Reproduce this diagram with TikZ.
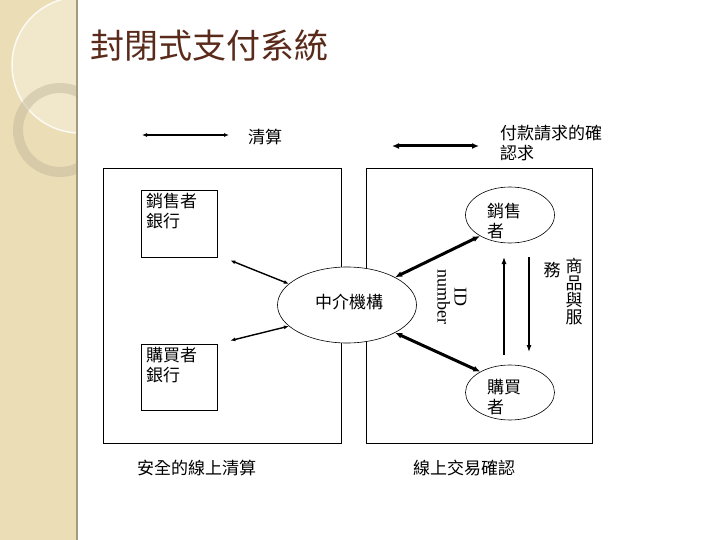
\documentclass[tikz,border=0pt]{standalone}
\usepackage{fontspec}
\setmainfont{Noto Sans CJK TC}
\newfontfamily\serifl{Liberation Serif}
\usetikzlibrary{arrows.meta}
\definecolor{beige}{HTML}{EBDDB5}
\definecolor{ttl}{HTML}{5A2A1A}
\tikzset{
  txt/.style={font=\fontsize{17}{20}\selectfont, align=left, inner sep=0pt},
  box/.style={draw, line width=0.8pt},
  ell/.style={draw, ellipse, line width=0.6pt},
  thin/.style={{Latex[length=5pt,width=4pt]}-{Latex[length=5pt,width=4pt]}, line width=1.4pt},
  thick/.style={{Latex[length=7pt,width=6pt]}-{Latex[length=7pt,width=6pt]}, line width=3pt},
  one/.style={-{Latex[length=7pt,width=5pt]}, line width=1.2pt}
}
\usetikzlibrary{shapes.geometric}
\begin{document}
\begin{tikzpicture}[x=1pt,y=-1pt]
\useasboundingbox (0,0) rectangle (720,540);
\fill[white] (0,0) rectangle (720,540);
\fill[beige] (0,0) rectangle (76,540);
\begin{scope}
\clip (0,0) rectangle (76,540);
\fill[beige!70!white] (80,65) circle (68);
\draw[white!85!beige, line width=1.5pt] (80,65) circle (68);
\draw[beige!80!black!90, line width=10pt, opacity=0.5] (60,130) circle (42);
\end{scope}
\draw[beige!70!black, line width=2pt] (77,0) -- (77,540);
\node[anchor=west, text=ttl, font=\fontsize{34}{38}\selectfont, inner sep=0pt] (title) at (90,46) {封閉式支付系統};

\coordinate (la1) at (142,135); \coordinate (la2) at (229,135);
\draw[thin] (la1) -- (la2);
\node[txt, anchor=west] (l1) at (248,137) {清算};
\coordinate (lb1) at (392,146); \coordinate (lb2) at (479,146);
\draw[thick] (lb1) -- (lb2);
\node[txt, anchor=north west] (l2) at (500,125) {付款請求的確\\認求};

\node[box, minimum width=238pt, minimum height=275pt] (lbox) at (222,305.5) {};
\node[box, minimum width=226pt, minimum height=275pt] (rbox) at (479,305.5) {};
\node[box, minimum width=76pt, minimum height=67pt] (sb) at (179,223.5) {};
\node[txt, anchor=north west] at (146,193) {銷售者\\銀行};
\node[box, minimum width=76pt, minimum height=66pt] (bb) at (179,377) {};
\node[txt, anchor=north west] at (146,347) {購買者\\銀行};
\node[ell, fill=white, minimum width=139pt, minimum height=76pt] (mid) at (347,305) {};
\node[txt] at (349,302) {中介機構};
\node[ell, fill=white, minimum width=89pt, minimum height=56pt] (sel) at (510,215) {};
\node[txt, anchor=north west] at (487,203) {銷售\\者};
\node[ell, fill=white, minimum width=89pt, minimum height=55pt] (buy) at (510,392.5) {};
\node[txt, anchor=north west] at (487,379) {購買\\者};

\draw[thin] (sb.south east) ++(13,3) coordinate (a1) (a1) -- (mid.160);
\draw[thin] (bb.north east) ++(13,-3) coordinate (a2) (a2) -- (mid.200);
\draw[thick] (mid.30) -- (sel.215);
\draw[thick] (mid.-30) -- (buy.145);
\coordinate (u1) at (504,355); \coordinate (u2) at (504,257);
\draw[one] (u1) -- (u2);
\coordinate (d1) at (529,257); \coordinate (d2) at (529,352);
\draw[one] (d1) -- (d2);
\node[rotate=-90, font=\fontsize{18}{17}\selectfont\serifl, align=center, inner sep=0pt] (id) at (452,297) {ID\\number};
\node[font=\fontsize{17}{17}\selectfont, align=center, inner sep=0pt] (svc) at (574,292) {商\\品\\與\\服};
\node[txt] (wu) at (552,270) {務};

\node[txt, anchor=west] at (137,468) {安全的線上清算};
\node[txt, anchor=west] at (413,468) {線上交易確認};
\end{tikzpicture}
\end{document}
